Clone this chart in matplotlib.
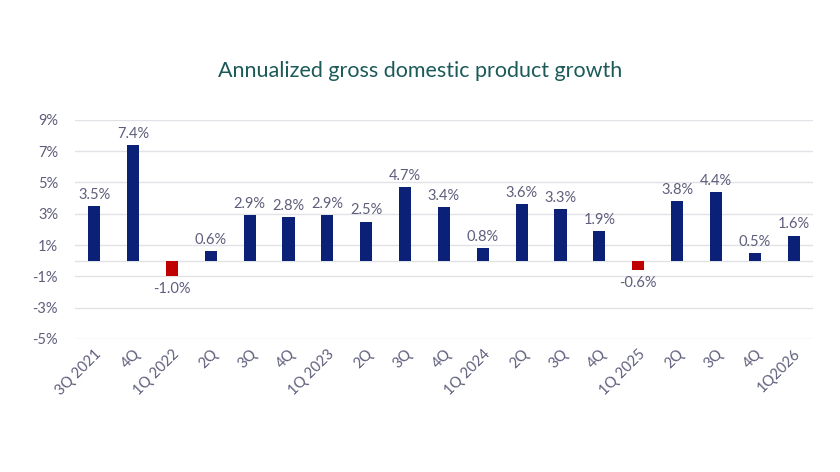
import matplotlib.pyplot as plt
import numpy as np

quarters = ["3Q 2021", "4Q", "1Q 2022", "2Q", "3Q", "4Q", "1Q 2023", "2Q", "3Q", "4Q",
            "1Q 2024", "2Q", "3Q", "4Q", "1Q 2025", "2Q", "3Q", "4Q", "1Q2026"]
growth = [3.5, 7.4, -1.0, 0.6, 2.9, 2.8, 2.9, 2.5, 4.7, 3.4,
          0.8, 3.6, 3.3, 1.9, -0.6, 3.8, 4.4, 0.5, 1.6]
yticks = [9, 7, 5, 3, 1, -1, -3, -5]

navy = "#0b2177"
red = "#c00000"
text_col = "#5e5e7c"
grid_col = "#e1e1e8"

plt.rcParams['font.family'] = ['Lato', 'DejaVu Sans']

fig = plt.figure(figsize=(8.4, 4.72), dpi=100)
ax = fig.add_axes([0.089, 0.282, 0.879, 0.464])

x = np.arange(len(growth))
colors = [red if v < 0 else navy for v in growth]
ax.bar(x, growth, width=0.31, color=colors, zorder=3)

# value labels above positive bars, below negative ones
for xi, v in zip(x, growth):
    if v >= 0:
        ax.annotate(f"{v:.1f}%", (xi, v), xytext=(0, 3), textcoords="offset points",
                    ha="center", va="bottom", fontsize=10.5, color=text_col)
    else:
        ax.annotate(f"{v:.1f}%", (xi, v), xytext=(0, -4), textcoords="offset points",
                    ha="center", va="top", fontsize=10.5, color=text_col)

ax.set_ylim(-5, 9)
ax.set_xlim(-0.5, len(growth) - 0.5)
ax.set_yticks(yticks)
ax.set_yticklabels([f"{t}%" for t in yticks])
ax.set_xticks(x)
ax.set_xticklabels(quarters, rotation=45, ha="right", rotation_mode="anchor")
ax.tick_params(axis="both", length=0, colors=text_col, labelsize=10.5)
ax.tick_params(axis="y", pad=12)
ax.tick_params(axis="x", pad=6)

ax.grid(axis="y", color=grid_col, linewidth=1, zorder=0)
ax.axhline(0, color=grid_col, linewidth=1, zorder=1)
for s in ax.spines.values():
    s.set_visible(False)

fig.text(0.5, 0.85, "Annualized gross domestic product growth", ha="center", va="center",
         fontsize=15.5, color="#1b5a58")

fig.savefig("out.png", dpi=100, facecolor="white")
